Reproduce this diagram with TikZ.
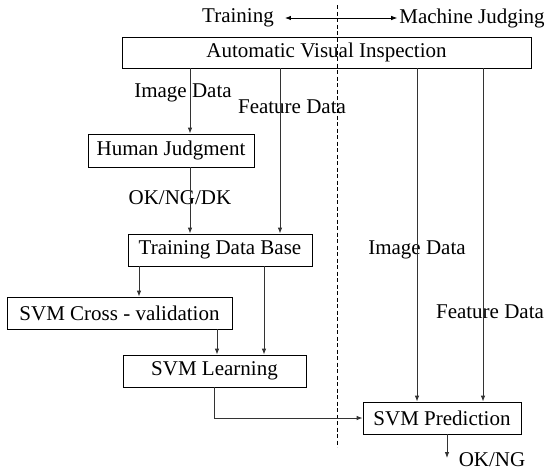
\documentclass[tikz,border=0pt]{standalone}
\usepackage{fontspec}
\setmainfont{Liberation Serif}
\usetikzlibrary{arrows.meta}

\begin{document}
\begin{tikzpicture}[x=1pt,y=-1pt,
  >={Latex[length=6pt,width=4.5pt]},
  box/.style={draw=black,line width=0.8pt,inner sep=0pt,minimum height=32pt},
  lbl/.style={inner sep=1pt},
  flow/.style={line width=0.8pt,draw=black!80,->}]

\fontsize{21}{24}\selectfont
\useasboundingbox (0,0) rectangle (545,474);

% top legend
\node[lbl] (train) at (238,18) {Training};
\node[lbl] (judge) at (472,18) {Machine Judging};
\draw[line width=0.8pt,<->,shorten <=10pt,shorten >=1pt] (train) -- (judge);

% split between training and judging
\coordinate (splittop) at (337,5);
\coordinate (splitbot) at (337,447);
\draw[line width=0.7pt,dash pattern=on 4pt off 2.5pt] (splittop) -- (splitbot);

% boxes
\node[box,minimum width=409pt,minimum height=31pt] (avi)   at (326.5,52.5) {Automatic Visual Inspection};
\node[box,minimum width=166pt,minimum height=33pt] (human) at (171,150.5)  {Human Judgment};
\node[box,minimum width=184pt] (tdb)   at (220,250)   {Training Data Base};
\node[box,minimum width=225pt] (cross) at (119.5,313) {SVM Cross - validation};
\node[box,minimum width=183pt] (learn) at (214.5,371) {SVM Learning};
\node[box,minimum width=158pt] (pred)  at (442,418)   {SVM Prediction};

% labels on the connectors
\node[lbl] (imgl)  at (183,93)  {Image Data};
\node[lbl] (featl) at (292,107) {Feature Data};
\node[lbl] (hjout) at (180,198) {OK/NG/DK};
\node[lbl] (imgr)  at (417,250) {Image Data};
\node[lbl] (featr) at (490,312) {Feature Data};
\node[lbl] (okng)  at (492,460) {OK/NG};

% training side
\draw[flow] ([xshift=19pt]human.north |- avi.south) -- ([xshift=19pt]human.north);
\draw[flow] ([xshift=60pt]tdb.north |- avi.south) -- ([xshift=60pt]tdb.north);
\draw[flow] ([xshift=19pt]human.south) -- ([xshift=19pt]human.south |- tdb.north);
\draw[flow] ([xshift=-81pt]tdb.south) -- ([xshift=-81pt]tdb.south |- cross.north);
\draw[flow] ([xshift=44pt]tdb.south) -- ([xshift=44pt]tdb.south |- learn.north);
\draw[flow] ([xshift=97.5pt]cross.south) -- ([xshift=97.5pt]cross.south |- learn.north);
\draw[flow] (learn.south) |- (pred.west);

% judging side
\draw[flow] ([xshift=-25pt]pred.north |- avi.south) -- ([xshift=-25pt]pred.north);
\draw[flow] ([xshift=41pt]pred.north |- avi.south) -- ([xshift=41pt]pred.north);
\coordinate (predout) at (447,458);
\draw[flow] ([xshift=5pt]pred.south) -- (predout);

\end{tikzpicture}
\end{document}
